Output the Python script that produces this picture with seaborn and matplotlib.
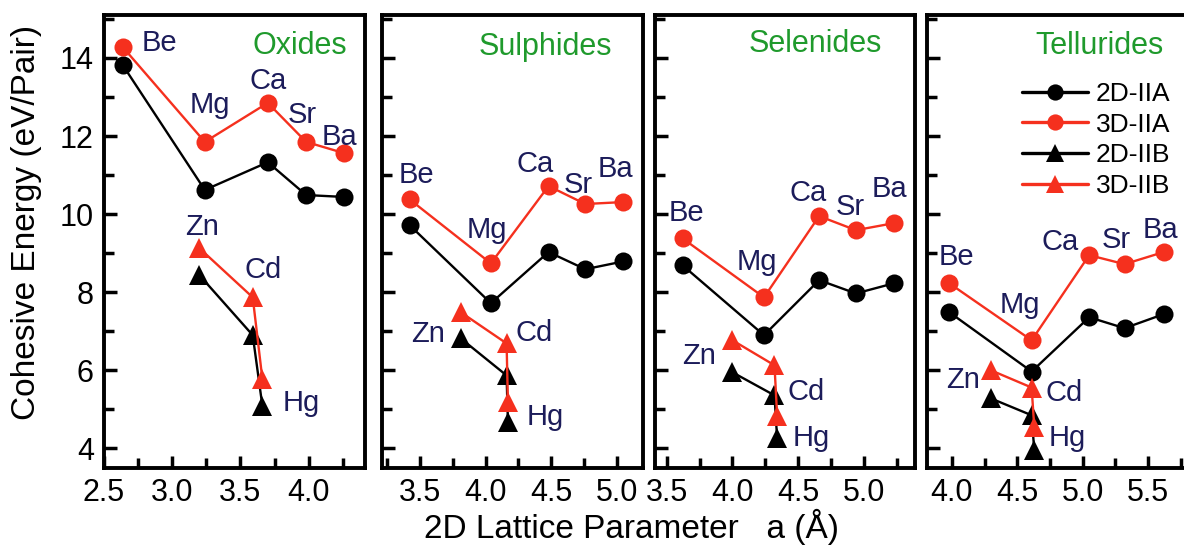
import matplotlib
matplotlib.use("Agg")
import matplotlib.pyplot as plt
import seaborn as sns
import pandas as pd
from matplotlib.lines import Line2D
from matplotlib.ticker import MultipleLocator

# ---------------- data ----------------
panels = ["Oxides", "Sulphides", "Selenides", "Tellurides"]
iia_elements = ["Be", "Mg", "Ca", "Sr", "Ba"]
iib_elements = ["Zn", "Cd", "Hg"]
series_names = ["2D-IIA", "3D-IIA", "2D-IIB", "3D-IIB"]

# Oxides
ox_a_iia = [2.64, 3.24, 3.70, 3.98, 4.26]
ox_2d_iia = [13.82, 10.62, 11.33, 10.49, 10.44]
ox_3d_iia = [14.28, 11.85, 12.85, 11.85, 11.56]
ox_a_iib = [3.20, 3.59, 3.66]
ox_2d_iib = [8.44, 6.90, 5.10]
ox_3d_iib = [9.13, 7.87, 5.79]

# Sulphides
s_a_iia = [3.42, 4.04, 4.48, 4.76, 5.05]
s_2d_iia = [9.72, 7.72, 9.03, 8.59, 8.79]
s_3d_iia = [10.38, 8.74, 10.72, 10.26, 10.31]
s_a_iib = [3.81, 4.16, 4.17]
s_2d_iib = [6.82, 5.87, 4.67]
s_3d_iib = [7.49, 6.69, 5.18]

# Selenides
se_a_iia = [3.62, 4.24, 4.66, 4.94, 5.23]
se_2d_iia = [8.69, 6.90, 8.31, 7.97, 8.23]
se_3d_iia = [9.38, 7.87, 9.95, 9.59, 9.77]
se_a_iib = [4.00, 4.32, 4.34]
se_2d_iib = [5.95, 5.36, 4.26]
se_3d_iib = [6.77, 6.13, 4.84]

# Tellurides
te_a_iia = [3.98, 4.61, 5.05, 5.32, 5.62]
te_2d_iia = [7.49, 5.97, 7.36, 7.08, 7.44]
te_3d_iia = [8.23, 6.77, 8.95, 8.72, 9.03]
te_a_iib = [4.30, 4.61, 4.63]
te_2d_iib = [5.28, 4.85, 3.95]
te_3d_iib = [6.00, 5.56, 4.54]

panel_data = {
    "Oxides": (ox_a_iia, ox_2d_iia, ox_3d_iia, ox_a_iib, ox_2d_iib, ox_3d_iib),
    "Sulphides": (s_a_iia, s_2d_iia, s_3d_iia, s_a_iib, s_2d_iib, s_3d_iib),
    "Selenides": (se_a_iia, se_2d_iia, se_3d_iia, se_a_iib, se_2d_iib, se_3d_iib),
    "Tellurides": (te_a_iia, te_2d_iia, te_3d_iia, te_a_iib, te_2d_iib, te_3d_iib),
}

# build a long table
rows = []
for p in panels:
    a1, e2a, e3a, a2, e2b, e3b = panel_data[p]
    for el, x, y in zip(iia_elements, a1, e2a):
        rows.append((p, "2D-IIA", el, x, y))
    for el, x, y in zip(iia_elements, a1, e3a):
        rows.append((p, "3D-IIA", el, x, y))
    for el, x, y in zip(iib_elements, a2, e2b):
        rows.append((p, "2D-IIB", el, x, y))
    for el, x, y in zip(iib_elements, a2, e3b):
        rows.append((p, "3D-IIB", el, x, y))
df = pd.DataFrame(rows, columns=["panel", "series", "element", "a", "E"])

# ---------------- style ----------------
sns.set_theme(style="ticks")
plt.rcParams["font.family"] = ["Liberation Sans", "DejaVu Sans"]
plt.rcParams["text.color"] = "black"

RED = "#f5301e"
BLACK = "#000000"
NAVY = "#1c1c5a"
GREEN = "#1f9a2c"
colors = {"2D-IIA": BLACK, "3D-IIA": RED, "2D-IIB": BLACK, "3D-IIB": RED}
markers = {"2D-IIA": "o", "3D-IIA": "o", "2D-IIB": "^", "3D-IIB": "^"}
msize = {"o": 13, "^": 14}

W, H = 1184, 548
fig = plt.figure(figsize=(W / 100, H / 100), dpi=100)

# axes boxes in pixels: left, right
boxes = [(103.5, 365), (382, 643), (655, 915), (927, 1186)]
top_px, bot_px = 15, 468
xlims = [(2.5, 4.41), (3.21, 5.2), (3.41, 5.39), (3.81, 5.79)]
title_pos = [(0.75, 0.932), (0.625, 0.93), (0.615, 0.935), (0.665, 0.932)]

# label offsets in pixels (dx, dy) ; anchor: which series the label sits next to
iia_off = [
    [(37, 4), (5, 37), (0, 22), (-4, 27), (-5, 16)],
    [(7, 24), (-4, 33), (-13, 22), (-7, 19), (-8, 33)],
    [(4, 25), (-7, 35), (-11, 23), (-6, 23), (-5, 34)],
    [(7, 26), (-12, 35), (-29, 13), (-8, 24), (-3, 22)],
]
iib_off = [
    [(3, 21), (10, 27), (39, 3)],
    [(-33, -22), (28, 10), (37, 5)],
    [(-33, -16), (32, -27), (34, 0)],
    [(-28, -10), (32, -5), (33, 12)],
]
iib_anchor = ["3D-IIB", "3D-IIB", "2D-IIB"]

for i, p in enumerate(panels):
    l, r = boxes[i]
    ax = fig.add_axes([l / W, 1 - bot_px / H, (r - l) / W, (bot_px - top_px) / H])
    sub = df[df.panel == p]
    for s in ["2D-IIA", "2D-IIB", "3D-IIA", "3D-IIB"]:
        d = sub[sub.series == s]
        sns.lineplot(data=d, x="a", y="E", ax=ax, color=colors[s],
                     marker=markers[s], markersize=msize[markers[s]],
                     markeredgecolor=colors[s], markeredgewidth=0,
                     linewidth=1.7, sort=False, estimator=None, legend=False)
    ax.set_xlim(*xlims[i])
    ax.set_ylim(3.5, 15.1)
    ax.xaxis.set_major_locator(MultipleLocator(0.5))
    ax.xaxis.set_minor_locator(MultipleLocator(0.25))
    ax.yaxis.set_major_locator(MultipleLocator(2))
    ax.yaxis.set_minor_locator(MultipleLocator(1))
    ax.xaxis.set_major_formatter(matplotlib.ticker.FormatStrFormatter("%.1f"))
    ax.tick_params(which="both", direction="in", top=False, right=False,
                   width=2.5, colors="black")
    ax.tick_params(which="major", length=9, labelsize=22, pad=7)
    ax.tick_params(which="minor", length=7)
    if i > 0:
        ax.tick_params(axis="y", labelleft=False)
    ax.set_xlabel("")
    ax.set_ylabel("")
    for sp in ax.spines.values():
        sp.set_linewidth(2.8)
        sp.set_color("black")
    ax.text(title_pos[i][0], title_pos[i][1], p, transform=ax.transAxes,
            ha="center", va="center", fontsize=22, color=GREEN)

    # element labels
    d3a = sub[sub.series == "3D-IIA"].reset_index(drop=True)
    for k, el in enumerate(iia_elements):
        row = d3a[d3a.element == el].iloc[0]
        ax.annotate(el, xy=(row.a, row.E), xytext=iia_off[i][k],
                    textcoords="offset pixels", ha="center", va="center",
                    fontsize=21, color=NAVY, annotation_clip=False)
    for k, el in enumerate(iib_elements):
        dd = sub[(sub.series == iib_anchor[k]) & (sub.element == el)].iloc[0]
        ax.annotate(el, xy=(dd.a, dd.E), xytext=iib_off[i][k],
                    textcoords="offset pixels", ha="center", va="center",
                    fontsize=21, color=NAVY, annotation_clip=False)

    if i == 3:
        handles = [Line2D([], [], color=colors[s], marker=markers[s],
                          markersize=msize[markers[s]] * 0.9, markeredgewidth=0,
                          linewidth=2.4) for s in series_names]
        ax.legend(handles, series_names, loc="upper left",
                  bbox_to_anchor=(1022 / W, 1 - 82 / H),
                  bbox_transform=fig.transFigure, frameon=False, fontsize=19,
                  handlelength=2.5, handletextpad=0.3, labelspacing=0.25,
                  borderpad=0, borderaxespad=0)

fig.text(27 / W, 1 - 222 / H, "Cohesive Energy (eV/Pair)", rotation=90,
         ha="center", va="center", fontsize=24, color="black")
fig.text(632 / W, 1 - 527 / H, "2D Lattice Parameter   a (Å)",
         ha="center", va="center", fontsize=24, color="black")

fig.savefig("out.png", dpi=100)
